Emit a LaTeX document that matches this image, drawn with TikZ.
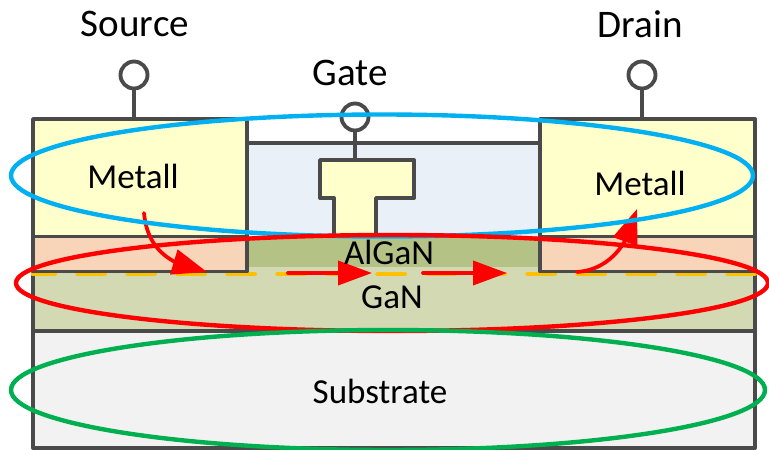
\documentclass[tikz,border=0pt]{standalone}
\usepackage{fontspec}
\setmainfont{Carlito}
\usetikzlibrary{arrows.meta,bending}
\definecolor{dk}{HTML}{4A4A4A}
\definecolor{metal}{HTML}{FFFFCC}
\definecolor{peach}{HTML}{F8D4B8}
\definecolor{algan}{HTML}{B5C285}
\definecolor{gan}{HTML}{D3D9B3}
\definecolor{subs}{HTML}{F2F2F2}
\definecolor{diel}{HTML}{EAF0F8}
\definecolor{ered}{HTML}{FF0000}
\definecolor{eblue}{HTML}{00B0F0}
\definecolor{egreen}{HTML}{00B050}
\definecolor{dash}{HTML}{FFC000}
\tikzset{
  x=0.75pt,y=-0.75pt,
  box/.style={draw=dk,line width=2.9pt,line join=round},
  term/.style={circle,draw=dk,line width=2.9pt,fill=white,minimum size=27*0.75pt,inner sep=0pt},
  lead/.style={draw=dk,line width=2.9pt},
  lbl/.style={font=\fontsize{29.3pt}{32pt}\selectfont,inner sep=0pt,text=black},
  lbls/.style={font=\fontsize{26.3pt}{30pt}\selectfont,inner sep=0pt,text=black},
  flow/.style={draw=ered,line width=2.8pt,line cap=round,-{Triangle[length=25.5pt,width=18pt,fill=ered]}},
  bentflow/.style={draw=ered,line width=2.8pt,line cap=round,-{Triangle[length=26pt,width=19pt,fill=ered,flex=1]}},
  ring/.style={line width=3.3pt,fill=none}
}
\begin{document}
\begin{tikzpicture}
\useasboundingbox (0,0) rectangle (769,450);
% layers
\fill[subs] (33,331) rectangle (755,448);
\fill[gan] (33,267) rectangle (755,331);
\fill[algan] (247,236) rectangle (540,267);
\fill[diel] (247,143) rectangle (540,236);
\draw[box] (33,331) -- (33,448) -- (755,448) -- (755,331);
\draw[box] (33,272) -- (33,331) -- (755,331) -- (755,272);
% channel
\draw[draw=dash,line width=3.5pt,line cap=round,dash pattern=on 20.25pt off 17.25pt,dash phase=4pt] (33,274) -- (755,274);
\draw[box,fill=peach] (33,236.5) rectangle (247,271.5);
\draw[box,fill=peach] (540,236.5) rectangle (755,271.5);
\draw[box,fill=metal] (33,119) rectangle (247,236.5);
\draw[box,fill=metal] (540,119) rectangle (755,236.5);
\draw[box] (247,143) -- (540,143);
\draw[box,fill=metal] (320,160) -- (414,160) -- (414,198) -- (376,198) -- (376,236) -- (334,236) -- (334,198) -- (320,198) -- cycle;
% terminals
\coordinate (srcpad) at (134,119);
\coordinate (gatepad) at (355,160);
\coordinate (drainpad) at (642,119);
\node[term] (src) at (134,75) {};
\node[term] (gate) at (355,117) {};
\node[term] (drain) at (642,75) {};
\draw[lead] (src) -- (srcpad);
\draw[lead] (gate) -- (gatepad);
\draw[lead] (drain) -- (drainpad);
% flow
\coordinate (f1) at (144,213);
\coordinate (t1) at (207,272);
\coordinate (f2) at (288,273);
\coordinate (t2) at (372,273);
\coordinate (f3) at (423,273);
\coordinate (t3) at (507,273);
\coordinate (f4) at (577,272);
\coordinate (t4) at (637,209);
\draw[bentflow] (f1) .. controls (147,245) and (165,265) .. (t1);
\draw[flow] (f2) -- (t2);
\draw[flow] (f3) -- (t3);
\draw[bentflow] (f4) .. controls (605,270) and (628,250) .. (t4);
% labels
\node[lbl] (lsrc) at (135,24) {Source};
\node[lbl] (ldrain) at (640,24) {Drain};
\node[lbl] (lgate) at (350,73) {Gate};
\node[lbls] (lm1) at (133,176) {Metall};
\node[lbls] (lm2) at (640,183) {Metall};
\node[lbls] (lal) at (389,252) {AlGaN};
\node[lbls] (lgan) at (392,297) {GaN};
\node[lbls] (lsub) at (380,391) {Substrate};
% rings
\draw[ring,draw=eblue] (382,175.5) ellipse [x radius=371,y radius=61];
\draw[ring,draw=ered] (392,283) ellipse [x radius=376,y radius=48];
\draw[ring,draw=egreen] (388,390) ellipse [x radius=377,y radius=60];
\end{tikzpicture}
\end{document}
